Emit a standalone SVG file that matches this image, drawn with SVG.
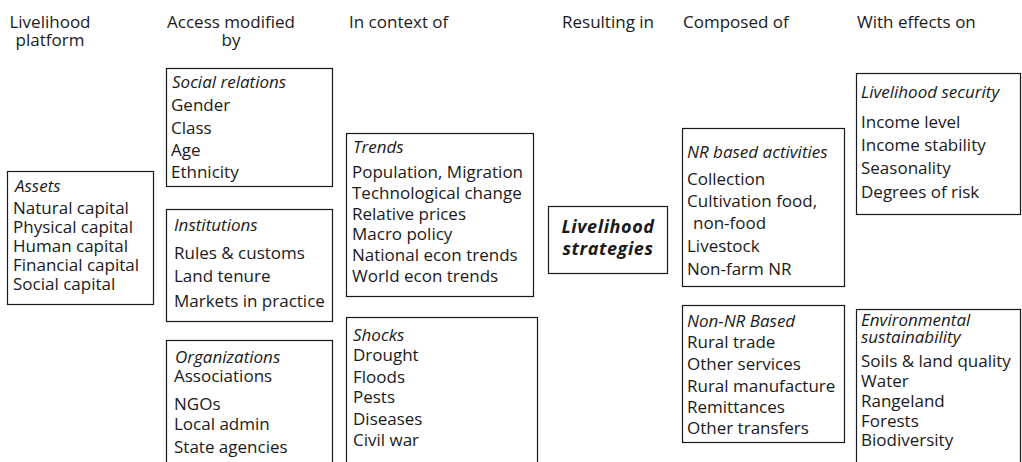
<svg xmlns="http://www.w3.org/2000/svg" width="1022" height="462" viewBox="0 0 1022 462">
<style>
text{font-family:"Open Sans","Liberation Sans",sans-serif;font-size:17px;fill:#1a1a1a}
.it{font-style:italic}
.b{font-weight:bold;font-style:italic;font-size:18px;letter-spacing:0.6px}
.c{text-anchor:middle}
rect{fill:#fff;stroke:#1a1a1a;stroke-width:1.2}
</style>
<rect x="0" y="0" width="1022" height="462" style="stroke:none"/>
<g id="headers">
<text class="c" x="50" y="28">Livelihood</text>
<text class="c" x="50" y="46">platform</text>
<text class="c" x="231" y="28">Access modified</text>
<text class="c" x="231" y="46">by</text>
<text x="349" y="28">In context of</text>
<text x="562" y="28">Resulting in</text>
<text x="683" y="28">Composed of</text>
<text x="857" y="28">With effects on</text>
</g>
<g id="assets">
<rect x="7.5" y="171.5" width="146" height="133"/>
<text class="it" x="15" y="192">Assets</text>
<text x="13" y="214">Natural capital</text>
<text x="13" y="233">Physical capital</text>
<text x="13" y="252">Human capital</text>
<text x="13" y="271">Financial capital</text>
<text x="13" y="290">Social capital</text>
</g>
<g id="social-relations">
<rect x="166.5" y="68.5" width="166" height="118"/>
<text class="it" x="172" y="88">Social relations</text>
<text x="171" y="111">Gender</text>
<text x="171" y="134">Class</text>
<text x="171" y="156">Age</text>
<text x="171" y="178">Ethnicity</text>
</g>
<g id="institutions">
<rect x="166.5" y="209.5" width="166" height="112"/>
<text class="it" x="174" y="231">Institutions</text>
<text x="174" y="259">Rules &amp; customs</text>
<text x="174" y="282">Land tenure</text>
<text x="174" y="307">Markets in practice</text>
</g>
<g id="organizations">
<rect x="166.5" y="340.5" width="166" height="130"/>
<text class="it" x="175" y="363">Organizations</text>
<text x="174" y="382">Associations</text>
<text x="174" y="410">NGOs</text>
<text x="174" y="430">Local admin</text>
<text x="174" y="453">State agencies</text>
</g>
<g id="trends">
<rect x="346.5" y="133.5" width="187" height="163"/>
<text class="it" x="353" y="153">Trends</text>
<text x="352" y="178">Population, Migration</text>
<text x="352" y="199">Technological change</text>
<text x="352" y="220">Relative prices</text>
<text x="352" y="240">Macro policy</text>
<text x="352" y="261">National econ trends</text>
<text x="352" y="282">World econ trends</text>
</g>
<g id="shocks">
<rect x="346.5" y="317.5" width="191" height="160"/>
<text class="it" x="353" y="341">Shocks</text>
<text x="353" y="361">Drought</text>
<text x="353" y="383">Floods</text>
<text x="353" y="403">Pests</text>
<text x="353" y="425">Diseases</text>
<text x="353" y="446">Civil war</text>
</g>
<g id="livelihood-strategies">
<rect x="548.5" y="206.5" width="119" height="67"/>
<text class="b c" x="608" y="233">Livelihood</text>
<text class="b c" x="608" y="255">strategies</text>
</g>
<g id="nr-based">
<rect x="682.5" y="128.5" width="162" height="158"/>
<text class="it" x="687" y="158">NR based activities</text>
<text x="687" y="185">Collection</text>
<text x="687" y="207">Cultivation food,</text>
<text x="693" y="229">non-food</text>
<text x="687" y="252">Livestock</text>
<text x="687" y="275">Non-farm NR</text>
</g>
<g id="non-nr-based">
<rect x="682.5" y="305.5" width="162" height="137"/>
<text class="it" x="687" y="327">Non-NR Based</text>
<text x="687" y="348">Rural trade</text>
<text x="687" y="370">Other services</text>
<text x="687" y="392">Rural manufacture</text>
<text x="687" y="413">Remittances</text>
<text x="687" y="434">Other transfers</text>
</g>
<g id="livelihood-security">
<rect x="856.5" y="73.5" width="164" height="141"/>
<text class="it" x="861" y="98">Livelihood security</text>
<text x="861" y="128">Income level</text>
<text x="861" y="151">Income stability</text>
<text x="861" y="174">Seasonality</text>
<text x="861" y="198">Degrees of risk</text>
</g>
<g id="environmental-sustainability">
<rect x="856.5" y="309.5" width="164" height="160"/>
<text class="it" x="861" y="326">Environmental</text>
<text class="it" x="861" y="343">sustainability</text>
<text x="861" y="367">Soils &amp; land quality</text>
<text x="861" y="387">Water</text>
<text x="861" y="407">Rangeland</text>
<text x="861" y="427">Forests</text>
<text x="861" y="446">Biodiversity</text>
</g>
<g id="connectors"></g>
</svg>
